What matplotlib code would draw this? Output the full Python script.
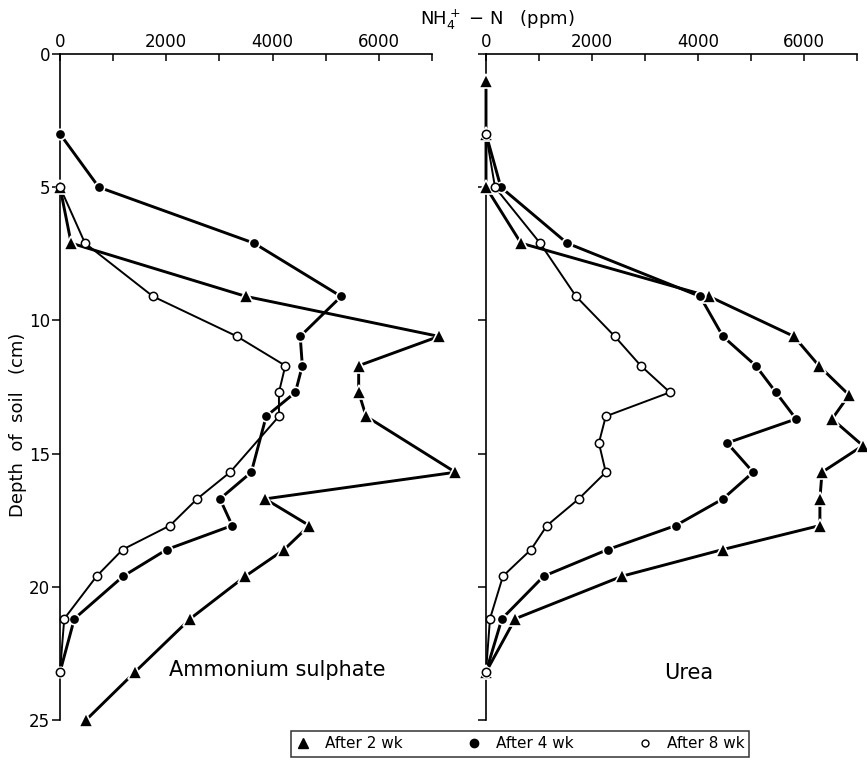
import matplotlib
matplotlib.use("Agg")
import matplotlib.pyplot as plt
from matplotlib.lines import Line2D
from matplotlib.ticker import MultipleLocator

# ---------------- NH4+-N (ppm) by soil depth (cm) ----------------

# Ammonium sulphate
as_depth_2wk = [5, 7.1, 9.1, 10.6, 11.7, 12.7, 13.6, 15.7, 16.7, 17.7, 18.6, 19.6, 21.2, 23.2, 25]
as_2wk = [0, 210, 3500, 7130, 5620, 5620, 5760, 7440, 3860, 4690, 4220, 3490, 2450, 1410, 490]

as_depth_4wk = [3, 5, 7.1, 9.1, 10.6, 11.7, 12.7, 13.6, 15.7, 16.7, 17.7, 18.6, 19.6, 21.2, 23.2]
as_4wk = [0, 730, 3650, 5290, 4520, 4560, 4430, 3880, 3600, 3010, 3240, 2010, 1190, 270, 0]

as_depth_8wk = [5, 7.1, 9.1, 10.6, 11.7, 12.7, 13.6, 15.7, 16.7, 17.7, 18.6, 19.6, 21.2, 23.2]
as_8wk = [0, 470, 1750, 3330, 4240, 4120, 4120, 3200, 2580, 2070, 1180, 690, 80, 0]

# Urea
u_depth_2wk = [1, 3, 5, 7.1, 9.1, 10.6, 11.7, 12.8, 13.7, 14.7, 15.7, 16.7, 17.7, 18.6, 19.6, 21.2, 23.2]
u_2wk = [0, 0, 0, 660, 4210, 5810, 6280, 6850, 6530, 7110, 6340, 6300, 6300, 4470, 2570, 550, 0]

u_depth_4wk = [3, 5, 7.1, 9.1, 10.6, 11.7, 12.7, 13.7, 14.6, 15.7, 16.7, 17.7, 18.6, 19.6, 21.2, 23.2]
u_4wk = [0, 280, 1530, 4040, 4470, 5090, 5470, 5850, 4550, 5040, 4470, 3580, 2300, 1090, 300, 0]

u_depth_8wk = [3, 5, 7.1, 9.1, 10.6, 11.7, 12.7, 13.6, 14.6, 15.7, 16.7, 17.7, 18.6, 19.6, 21.2, 23.2]
u_8wk = [0, 170, 1020, 1700, 2430, 2920, 3470, 2260, 2130, 2260, 1750, 1150, 850, 320, 75, 0]

weeks = ["After 2 wk", "After 4 wk", "After 8 wk"]
panel_names = ["Ammonium sulphate", "Urea"]

FONT = "DejaVu Sans"
plt.rcParams["font.family"] = FONT

# marker styles: triangle / filled circle / open circle
styles = [
    dict(marker="^", ms=9.5, mfc="k", mec="w", mew=1.2, lw=2.1),
    dict(marker="o", ms=7.5, mfc="k", mec="w", mew=1.2, lw=2.1),
    dict(marker="o", ms=6, mfc="w", mec="k", mew=1.1, lw=1.4),
]

fig = plt.figure(figsize=(8.67, 7.58), dpi=100)
ax_l = fig.add_axes([60 / 867, 1 - 720 / 758, 372 / 867, 666 / 758])
ax_r = fig.add_axes([486 / 867, 1 - 720 / 758, 371 / 867, 666 / 758])

panels = [
    (ax_l, [(as_2wk, as_depth_2wk), (as_4wk, as_depth_4wk), (as_8wk, as_depth_8wk)]),
    (ax_r, [(u_2wk, u_depth_2wk), (u_4wk, u_depth_4wk), (u_8wk, u_depth_8wk)]),
]

for ax, series in panels:
    # lines first, markers on top so they leave small gaps in the lines
    for (x, d), st in zip(series, styles):
        ax.plot(x, d, "-", color="k", lw=st["lw"], zorder=2, clip_on=False)
    for (x, d), st in zip(series, styles):
        ax.plot(x, d, ls="none", marker=st["marker"], ms=st["ms"],
                mfc=st["mfc"], mec=st["mec"], mew=st["mew"], zorder=3, clip_on=False)

    ax.set_xlim(0, 7000)
    ax.set_ylim(25, 0)
    ax.spines["bottom"].set_visible(False)
    ax.spines["right"].set_visible(False)
    ax.spines["top"].set_linewidth(1.2)
    ax.spines["left"].set_linewidth(1.2)

    ax.xaxis.tick_top()
    ax.xaxis.set_major_locator(MultipleLocator(2000))
    ax.xaxis.set_minor_locator(MultipleLocator(1000))
    ax.tick_params(axis="x", which="both", direction="in", length=5, width=1.1,
                   pad=2, labelsize=12)
    ax.set_yticks([0, 5, 10, 15, 20, 25])
    ax.tick_params(axis="y", direction="out", length=6, width=1.1, pad=1, labelsize=12)

ax_r.tick_params(axis="y", labelleft=False)

ax_l.text(0.585, 0.075, panel_names[0], transform=ax_l.transAxes,
          ha="center", va="center", fontsize=15)
ax_r.text(0.545, 0.07, panel_names[1], transform=ax_r.transAxes,
          ha="center", va="center", fontsize=15)

fig.text(497 / 867, 1 - 20 / 758, r"NH$_4^+$ $-$ N   (ppm)", ha="center", va="center", fontsize=13)
fig.text(18 / 867, 1 - 425 / 758, "Depth  of  soil   (cm)", rotation=90,
         ha="center", va="center", fontsize=13)

handles = [
    Line2D([], [], ls="none", marker="^", ms=7, mfc="k", mec="k"),
    Line2D([], [], ls="none", marker="o", ms=6, mfc="k", mec="k"),
    Line2D([], [], ls="none", marker="o", ms=5, mfc="w", mec="k", mew=1),
]
leg = fig.legend(handles, weeks, loc="upper center", ncol=3,
                 bbox_to_anchor=(520 / 867, 1 - 731 / 758),
                 borderaxespad=0, frameon=True, fancybox=False, edgecolor="k",
                 fontsize=11, handlelength=1.0, handletextpad=0.9,
                 columnspacing=4.2, borderpad=0.35)
leg.get_frame().set_linewidth(1.1)

fig.savefig("out.png", dpi=100)
